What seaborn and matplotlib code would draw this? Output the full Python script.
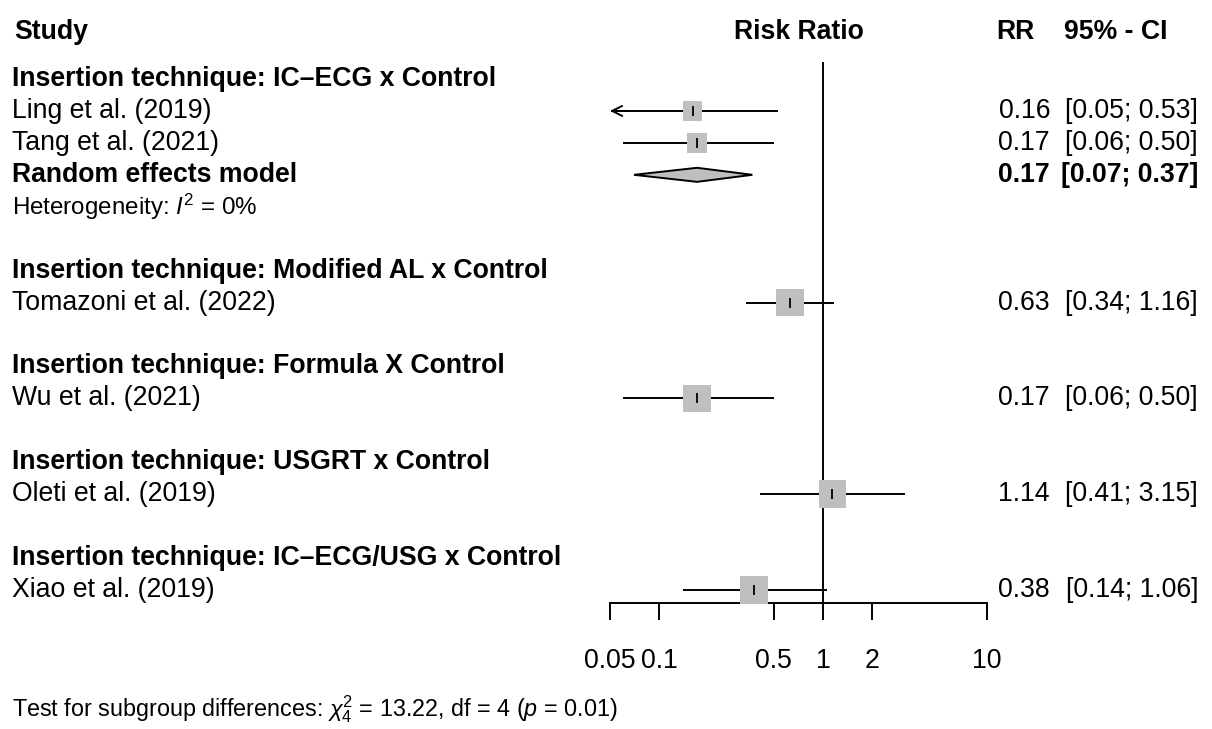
import numpy as np
import pandas as pd
import matplotlib
matplotlib.use("Agg")
import matplotlib.pyplot as plt
import matplotlib.transforms as mtransforms
import seaborn as sns

# data
groups = ["Insertion technique: IC\u2013ECG x Control",
          "Insertion technique: Modified AL x Control",
          "Insertion technique: Formula X Control",
          "Insertion technique: USGRT x Control",
          "Insertion technique: IC\u2013ECG/USG x Control"]
studies = ["Ling et al. (2019)", "Tang et al. (2021)", "Tomazoni et al. (2022)",
           "Wu et al. (2021)", "Oleti et al. (2019)", "Xiao et al. (2019)"]
study_group = [0, 0, 1, 2, 3, 4]
rr = [0.16, 0.17, 0.63, 0.17, 1.14, 0.38]
lo = [0.05, 0.06, 0.34, 0.06, 0.41, 0.14]
hi = [0.53, 0.50, 1.16, 0.50, 3.15, 1.06]
weight = [48, 52, 100, 100, 100, 100]   # % within subgroup
# pooled estimate (only subgroup with >1 study)
pooled_group = 0
pooled_rr, pooled_lo, pooled_hi = 0.17, 0.07, 0.37
pooled_i2 = 0
# test for subgroup differences
q_chi2, q_df, q_p = 13.22, 4, 0.01

ticks = [0.05, 0.1, 0.5, 1, 2, 10]
tick_labels = ["0.05", "0.1", "0.5", "1", "2", "10"]

sns.set_theme(style="white")
plt.rcParams["font.family"] = ["Liberation Sans", "DejaVu Sans"]
plt.rcParams["mathtext.fontset"] = "custom"
plt.rcParams["mathtext.rm"] = "Liberation Sans"
plt.rcParams["mathtext.it"] = "Liberation Sans:italic"
plt.rcParams["mathtext.bf"] = "Liberation Sans:bold"

FS = 19.2
FS_HET = 17.4
FS_TEST = 16.8
W, H = 1212, 729
fig = plt.figure(figsize=(W / 100, H / 100), dpi=100)
fig.patch.set_facecolor("white")

# forest panel
x0, x1, ytop, ybot = 610, 987, 62, 603
ax = fig.add_axes([x0 / W, 1 - ybot / H, (x1 - x0) / W, (ybot - ytop) / H])
row_h, row1_px = 31.94, 79
px2row = lambda p: (p - row1_px) / row_h + 1
ax.set_xscale("log")
ax.set_xlim(ticks[0], ticks[-1])
ax.set_ylim(px2row(ybot), px2row(ytop))
ax.patch.set_alpha(0)

# lay out rows
rows = []   # (row, kind, index)
r = 1
for g in range(len(groups)):
    rows.append((r, "group", g)); r += 1
    for i, sg in enumerate(study_group):
        if sg == g:
            rows.append((r, "study", i)); r += 1
    if g == pooled_group:
        rows.append((r, "pooled", g)); r += 1
        rows.append((r, "het", g)); r += 1
    r += 1

study_rows = {i: rr_ for rr_, k, i in rows if k == "study"}
df = pd.DataFrame({"study": studies, "rr": rr, "lo": lo, "hi": hi,
                   "weight": weight,
                   "row": [study_rows[i] for i in range(len(studies))]})

# confidence intervals
for _, d in df.iterrows():
    if d.lo <= ticks[0]:
        ax.hlines(d.row, ticks[0] * 1.02, d.hi, color="black", lw=1.4)
        ax.annotate("", xy=(ticks[0], d.row), xytext=(ticks[0] * 1.3, d.row),
                    arrowprops=dict(arrowstyle="->,head_length=0.6,head_width=0.3",
                                    color="black", lw=1.4, shrinkA=0, shrinkB=0))
    else:
        ax.hlines(d.row, d.lo, d.hi, color="black", lw=1.4)

full = 400
sns.scatterplot(data=df, x="rr", y="row", size="weight",
                sizes={w: full * w / 100 for w in weight},
                marker="s", color="#bfbfbf", linewidth=0, legend=False,
                ax=ax, zorder=3, clip_on=False)
ax.plot(df.rr, df.row, ls="none", marker="|", ms=7, mew=1.3, color="black", zorder=4)

# pooled diamond
prow = [rr_ for rr_, k, i in rows if k == "pooled"][0]
dh = 0.22
ax.fill([pooled_lo, pooled_rr, pooled_hi, pooled_rr],
        [prow, prow - dh, prow, prow + dh],
        facecolor="#bfbfbf", edgecolor="black", lw=1.4, zorder=3)

ax.axvline(1, color="black", lw=1.4, zorder=2)

for s in ["left", "right", "top"]:
    ax.spines[s].set_visible(False)
ax.spines["bottom"].set_color("black")
ax.spines["bottom"].set_linewidth(1.4)
ax.set_yticks([])
ax.set_xticks(ticks)
ax.set_xticklabels(tick_labels)
ax.minorticks_off()
ax.tick_params(axis="x", direction="out", length=12.2, width=1.4, color="black",
               labelsize=FS, pad=20, bottom=True, labelcolor="black")
ax.set_xlabel(""); ax.set_ylabel("")

# text columns
tr = mtransforms.blended_transform_factory(fig.transFigure, ax.transData)
def txt(xpx, row, s, ha="left", bold=False, size=FS):
    ax.text(xpx / W, row, s, transform=tr, ha=ha, va="center",
            fontsize=size, fontweight="bold" if bold else "normal",
            clip_on=False, color="black")

hrow = px2row(32)
txt(14, hrow, "Study", bold=True)
txt((x0 + x1) / 2, hrow, "Risk Ratio", ha="center", bold=True)
txt(1034, hrow, "RR", ha="right", bold=True)
txt(1167, hrow, "95% - CI", ha="right", bold=True)

for row, kind, i in rows:
    if kind == "group":
        txt(12, row, groups[i], bold=True)
    elif kind == "study":
        txt(12, row, studies[i])
        txt(1050, row, f"{rr[i]:.2f}", ha="right")
        txt(1198, row, f"[{lo[i]:.2f}; {hi[i]:.2f}]", ha="right")
    elif kind == "pooled":
        txt(12, row, "Random effects model", bold=True)
        txt(1050, row, f"{pooled_rr:.2f}", ha="right", bold=True)
        txt(1198, row, f"[{pooled_lo:.2f}; {pooled_hi:.2f}]", ha="right", bold=True)
    elif kind == "het":
        txt(12, row, r"Heterogeneity: $I^2$ = " + f"{pooled_i2}%", size=FS_HET)

txt(12, px2row(709),
    r"Test for subgroup differences: $\chi^2_{" + str(q_df) + "}$ = "
    + f"{q_chi2:.2f}, df = {q_df} (" + r"$p$" + f" = {q_p:.2f})", size=FS_TEST)

fig.savefig("out.png", dpi=100, facecolor="white")
